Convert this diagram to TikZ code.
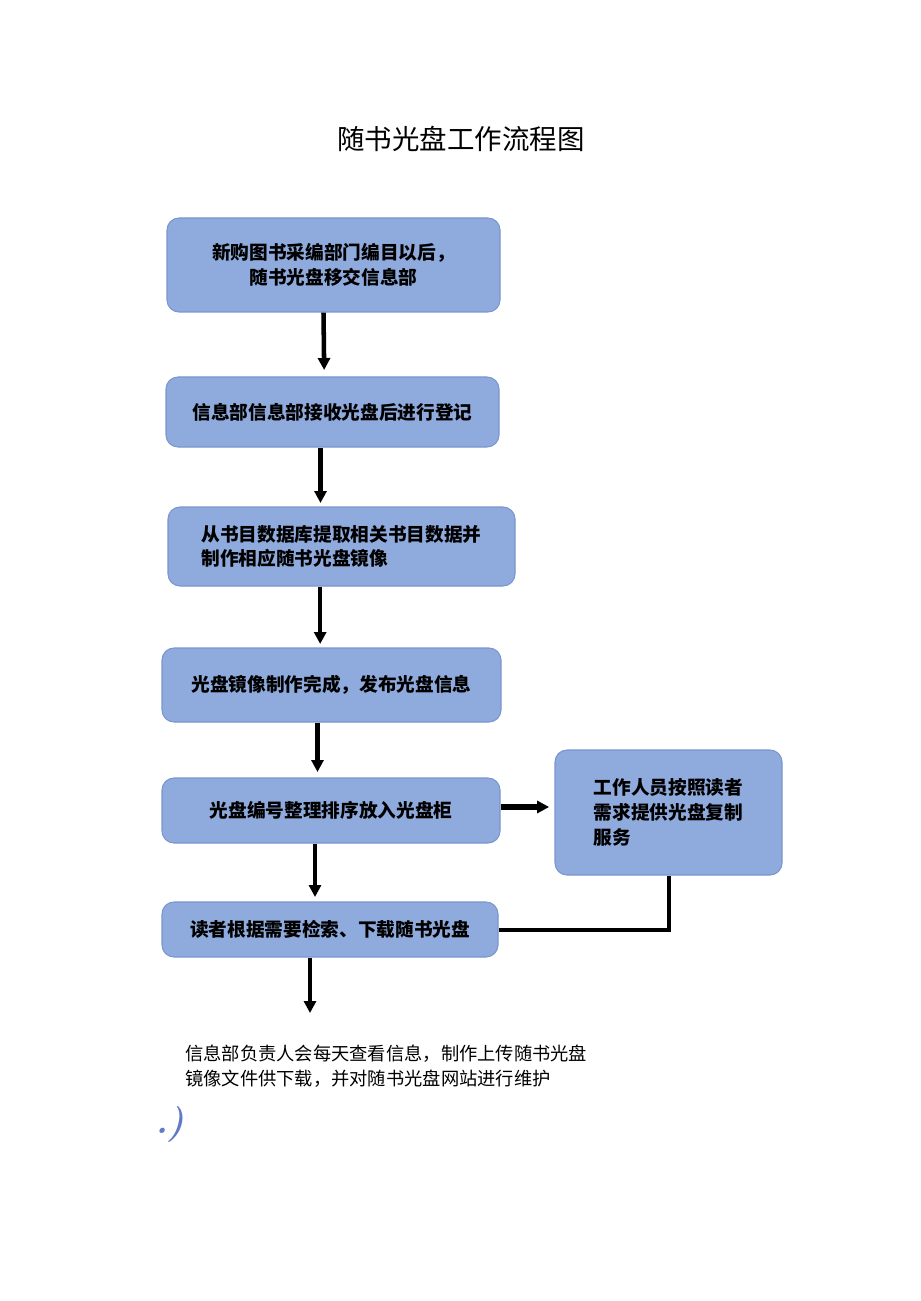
\documentclass[tikz,border=0pt]{standalone}
\usepackage{fontspec}
\usepackage{xcolor}
\usepackage{tikz}
\usetikzlibrary{arrows.meta, positioning, calc}
\newfontfamily\cjk{Noto Sans CJK SC}
\definecolor{boxfill}{RGB}{143,170,220}
\definecolor{boxline}{RGB}{122,150,206}
\definecolor{markblue}{RGB}{98,120,200}

\begin{document}
\begin{tikzpicture}[
    x=0.75pt, y=-0.75pt,
    block/.style={rectangle, draw=boxline, fill=boxfill, line width=0.8pt, rounded corners=9pt, align=center, inner sep=2pt,
                  font=\cjk\bfseries\fontsize{14pt}{18.5pt}\selectfont},
    arrow/.style={-{Triangle[length=9pt, width=9pt]}, line width=3.4pt},
    link/.style={line width=3pt},
    note/.style={font=\cjk\fontsize{13.7pt}{18.75pt}\selectfont, align=left, anchor=west, inner sep=0pt},
]
\useasboundingbox (0,0) rectangle (920,1301);

\node[font=\cjk\fontsize{20.6pt}{24pt}\selectfont] (title) at (461,139) {随书光盘工作流程图};

\node[block, minimum width=249.75pt, minimum height=70.5pt]  (recv)   at (333.5,265)   {\raisebox{-3pt}{新购图书采编部门编目以后，}\\\raisebox{-3pt}{随书光盘移交信息部}};
\node[block, minimum width=249.75pt, minimum height=52.5pt]  (reg)    at (332.5,412)   {信息部信息部接收光盘后进行登记};
\node[block, minimum width=260.25pt, minimum height=59.25pt, align=left] (image) at (341.5,546.5) {从书目数据库提取相关书目数据并\\制作相应随书光盘镜像};
\node[block, minimum width=254.25pt, minimum height=55.5pt]  (publish) at (331.5,685)  {光盘镜像制作完成，发布光盘信息};
\node[block, minimum width=253.5pt, minimum height=48.75pt]  (shelf)  at (331,810.5)   {光盘编号整理排序放入光盘柜};
\node[block, minimum width=252pt, minimum height=41.25pt]    (reader) at (330,929.5)   {读者根据需要检索、下载随书光盘};
\node[block, minimum width=170.25pt, minimum height=93.75pt, align=left] (copy) at (668.5,812.5) {工作人员按照读者\\需求提供光盘复制\\服务};

\coordinate (out) at (310,1013);
\node[note] (maint) at (185,1066) {信息部负责人会每天查看信息，制作上传随书光盘\\镜像文件供下载，并对随书光盘网站进行维护};
\node[font=\bfseries\itshape\fontsize{27pt}{30pt}\selectfont, text=markblue, inner sep=0pt] (mark) at (170,1124) {.)};

\draw[arrow] ([xshift=-7.5pt]recv.south)   -- ([xshift=-7pt]recv.south |- 0,370);
\draw[arrow] ([xshift=-9pt]reg.south)      -- ([xshift=-9pt]reg.south |- 0,503);
\draw[arrow] ([xshift=-16pt]image.south)   -- ([xshift=-16pt]image.south |- 0,644);
\draw[arrow] ([xshift=-10.5pt]publish.south) -- ([xshift=-10.5pt]publish.south |- 0,772);
\draw[arrow] ([xshift=-12pt]shelf.south)   -- ([xshift=-12pt]shelf.south |- 0,897);
\draw[arrow] (reader.south -| out) -- (out);
\draw[arrow, line width=4.2pt] (shelf.east |- 0,807) -- ([xshift=-4pt]copy.west |- 0,807);
\draw[link] (copy.south) |- (reader.east);

\end{tikzpicture}
\end{document}
